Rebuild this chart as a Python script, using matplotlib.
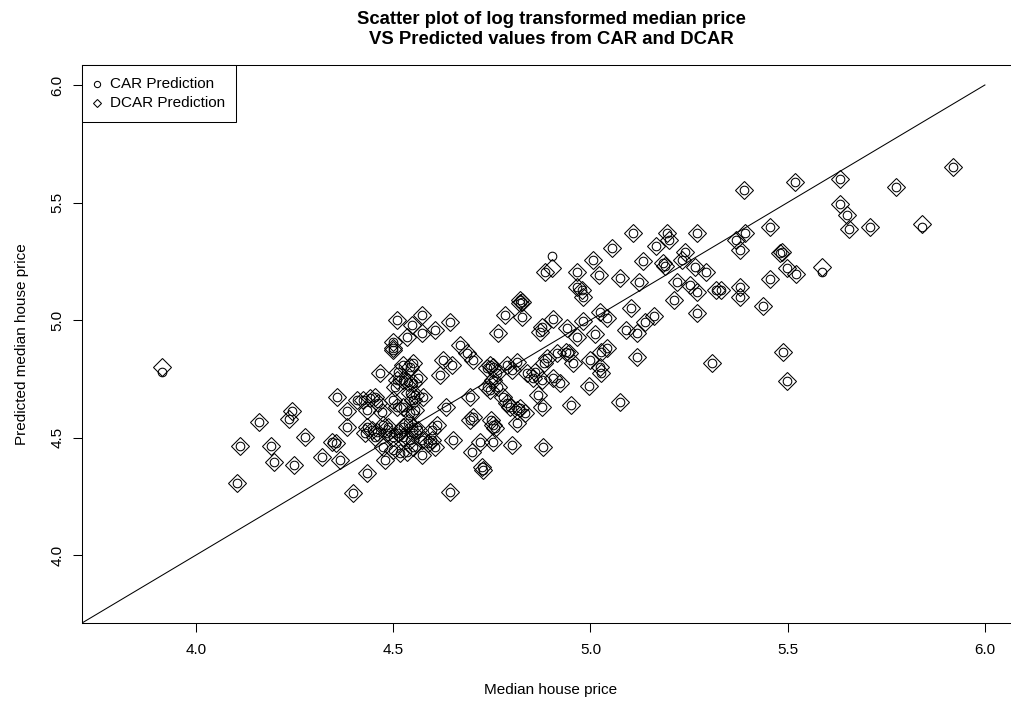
import matplotlib
matplotlib.use("Agg")
import matplotlib.pyplot as plt
from matplotlib.lines import Line2D
from matplotlib.patches import Rectangle

plt.rcParams['font.family'] = ['Liberation Sans', 'DejaVu Sans']

# ---- data ----
median_price = [
    3.913, 4.103, 4.112, 4.160, 4.190, 4.198, 4.248, 4.243, 4.237, 4.277,
    4.319, 4.346, 4.356, 4.365, 4.357, 4.384, 4.382, 4.407, 4.398,
    4.509, 4.572, 4.547, 4.573, 4.606, 4.644, 4.500, 4.500, 4.499, 4.534,
    4.783, 4.821, 4.826, 4.876, 4.872, 4.904, 4.766, 4.669, 4.686, 4.703,
    4.627, 4.648, 4.619, 4.551, 4.542, 4.526, 4.513, 4.509, 4.504, 4.466,
    4.526, 4.538, 4.551, 4.564, 4.542, 4.555, 4.551, 4.576, 4.500, 4.509,
    4.526, 4.542, 4.555, 4.635, 4.695, 4.695, 4.703, 4.749, 4.754, 4.758,
    4.610, 4.652, 4.699, 4.720, 4.754, 4.724, 4.728, 4.800, 4.813, 4.879,
    4.644, 4.754, 4.737, 4.745, 4.762, 4.754, 4.766, 4.788, 4.800, 4.813,
    4.838, 4.855, 4.859, 4.881, 4.889, 4.914, 4.876, 4.906, 4.737, 4.745,
    4.779, 4.788, 4.796, 4.813, 4.821, 4.834, 4.868, 4.876, 4.433, 4.445,
    4.454, 4.458, 4.428, 4.424, 4.441, 4.454, 4.462, 4.433, 4.471, 4.475,
    4.488, 4.483, 4.475, 4.479, 4.500, 4.513, 4.526, 4.542, 4.551, 4.526,
    4.538, 4.551, 4.551, 4.564, 4.572, 4.589, 4.598, 4.606, 4.534, 4.572,
    4.517, 4.500, 4.433, 4.598,
    4.885, 4.902, 4.965, 4.965, 4.821, 4.826,
    5.107, 5.195, 5.271, 5.393, 5.456, 5.370, 5.379, 5.480, 5.456, 5.054,
    5.165, 5.198, 5.240, 5.134, 5.184, 5.190, 5.231, 5.265, 5.294, 5.006,
    5.022, 5.075, 5.124, 5.219, 5.252, 5.271, 5.318, 5.330, 5.379, 5.379,
    5.437, 4.978, 4.980, 5.212, 5.271, 5.104, 5.161, 5.138, 5.024, 5.041,
    4.980, 4.940, 5.091, 5.117, 5.011, 4.965, 4.938, 4.945, 5.027, 5.041,
    4.999, 5.024, 5.028, 4.956, 5.119, 5.307, 4.997, 4.951, 5.075, 4.923,
    5.518, 5.632, 5.774, 5.918, 5.632, 5.651, 5.655, 5.708, 5.841, 5.587,
    5.485, 5.499, 5.520, 5.489, 5.499, 5.390,
]

car_pred = [
    4.780, 4.305, 4.465, 4.565, 4.465, 4.397, 4.384, 4.613, 4.577, 4.503,
    4.418, 4.482, 4.478, 4.404, 4.674, 4.614, 4.546, 4.660, 4.264,
    5.000, 5.021, 4.979, 4.945, 4.957, 4.993, 4.908, 4.880, 4.872, 4.929,
    5.021, 5.071, 5.014, 4.971, 4.950, 5.003, 4.943, 4.894, 4.858, 4.830,
    4.830, 4.809, 4.766, 4.816, 4.801, 4.809, 4.780, 4.745, 4.716, 4.773,
    4.745, 4.738, 4.730, 4.752, 4.688, 4.681, 4.660, 4.674, 4.660, 4.631,
    4.631, 4.603, 4.617, 4.631, 4.674, 4.574, 4.589, 4.574, 4.553, 4.539,
    4.553, 4.489, 4.440, 4.482, 4.482, 4.376, 4.362, 4.468, 4.560, 4.461,
    4.269, 4.801, 4.794, 4.809, 4.773, 4.745, 4.716, 4.809, 4.787, 4.823,
    4.773, 4.752, 4.780, 4.816, 4.837, 4.858, 4.745, 4.752, 4.716, 4.702,
    4.674, 4.646, 4.631, 4.617, 4.624, 4.603, 4.681, 4.631, 4.546, 4.532,
    4.503, 4.525, 4.518, 4.660, 4.667, 4.674, 4.646, 4.617, 4.610, 4.553,
    4.546, 4.518, 4.461, 4.404, 4.503, 4.518, 4.503, 4.489, 4.461, 4.546,
    4.560, 4.546, 4.518, 4.532, 4.489, 4.475, 4.489, 4.461, 4.440, 4.426,
    4.433, 4.447, 4.348, 4.532,
    5.206, 5.272, 5.206, 5.142, 5.085, 5.078,
    5.369, 5.369, 5.369, 5.369, 5.394, 5.340, 5.298, 5.284, 5.173, 5.305,
    5.315, 5.340, 5.291, 5.249, 5.241, 5.230, 5.255, 5.227, 5.206, 5.255,
    5.191, 5.177, 5.163, 5.163, 5.149, 5.120, 5.127, 5.127, 5.142, 5.099,
    5.060, 5.127, 5.100, 5.085, 5.031, 5.050, 5.017, 4.993, 5.035, 5.007,
    4.996, 4.965, 4.957, 4.943, 4.940, 4.929, 4.864, 4.860, 4.864, 4.879,
    4.830, 4.801, 4.773, 4.816, 4.844, 4.816, 4.719, 4.638, 4.652, 4.730,
    5.589, 5.599, 5.565, 5.652, 5.492, 5.447, 5.386, 5.397, 5.395, 5.206,
    5.290, 5.220, 5.196, 4.865, 4.742, 5.555,
]

dcar_pred = [
    4.801, 4.305, 4.465, 4.565, 4.465, 4.397, 4.384, 4.613, 4.577, 4.503,
    4.418, 4.482, 4.478, 4.404, 4.674, 4.614, 4.546, 4.660, 4.264,
    5.000, 5.021, 4.979, 4.945, 4.957, 4.993, 4.908, 4.880, 4.872, 4.929,
    5.021, 5.071, 5.014, 4.971, 4.950, 5.003, 4.943, 4.894, 4.858, 4.830,
    4.830, 4.809, 4.766, 4.816, 4.801, 4.809, 4.780, 4.745, 4.716, 4.773,
    4.745, 4.738, 4.730, 4.752, 4.688, 4.681, 4.660, 4.674, 4.660, 4.631,
    4.631, 4.603, 4.617, 4.631, 4.674, 4.574, 4.589, 4.574, 4.553, 4.539,
    4.553, 4.489, 4.440, 4.482, 4.482, 4.376, 4.362, 4.468, 4.560, 4.461,
    4.269, 4.801, 4.794, 4.809, 4.773, 4.745, 4.716, 4.809, 4.787, 4.823,
    4.773, 4.752, 4.780, 4.816, 4.837, 4.858, 4.745, 4.752, 4.716, 4.702,
    4.674, 4.646, 4.631, 4.617, 4.624, 4.603, 4.681, 4.631, 4.546, 4.532,
    4.503, 4.525, 4.518, 4.660, 4.667, 4.674, 4.646, 4.617, 4.610, 4.553,
    4.546, 4.518, 4.461, 4.404, 4.503, 4.518, 4.503, 4.489, 4.461, 4.546,
    4.560, 4.546, 4.518, 4.532, 4.489, 4.475, 4.489, 4.461, 4.440, 4.426,
    4.433, 4.447, 4.348, 4.532,
    5.206, 5.220, 5.206, 5.142, 5.085, 5.078,
    5.369, 5.369, 5.369, 5.369, 5.394, 5.340, 5.298, 5.284, 5.173, 5.305,
    5.315, 5.340, 5.291, 5.249, 5.241, 5.230, 5.255, 5.227, 5.206, 5.255,
    5.191, 5.177, 5.163, 5.163, 5.149, 5.120, 5.127, 5.127, 5.142, 5.099,
    5.060, 5.127, 5.100, 5.085, 5.031, 5.050, 5.017, 4.993, 5.035, 5.007,
    4.996, 4.965, 4.957, 4.943, 4.940, 4.929, 4.864, 4.860, 4.864, 4.879,
    4.830, 4.801, 4.773, 4.816, 4.844, 4.816, 4.719, 4.638, 4.652, 4.730,
    5.589, 5.599, 5.565, 5.652, 5.492, 5.447, 5.386, 5.397, 5.409, 5.227,
    5.290, 5.220, 5.196, 4.865, 4.742, 5.555,
]

ref_line = [3.0, 6.0]
ticks = [4.0, 4.5, 5.0, 5.5, 6.0]
tick_labels = ["4.0", "4.5", "5.0", "5.5", "6.0"]
legend_labels = ["CAR Prediction", "DCAR Prediction"]
title_lines = ["Scatter plot of log transformed median price",
               "VS Predicted values from CAR and DCAR"]
xlabel = "Median house price"
ylabel = "Predicted median house price"

# ---- figure ----
W, H = 1011, 701
fig = plt.figure(figsize=(W / 100, H / 100), dpi=100)

def fx(px):
    return px / W

def fy(py):
    return 1 - py / H

L, R, T, B = 82, 1020, 65, 623
ax = fig.add_axes([fx(L), fy(B), (R - L) / W, (B - T) / H])
ax.set_xlim(3.711, 6.089)
ax.set_ylim(3.711, 6.085)

lw = 0.75
ax.plot(median_price, car_pred, linestyle='none', marker='o', ms=6.2,
        mfc='none', mec='black', mew=lw)
ax.plot(median_price, dcar_pred, linestyle='none', marker='D', ms=9.3,
        mfc='none', mec='black', mew=lw)
ax.plot(ref_line, ref_line, color='black', lw=lw)

for s in ['left', 'bottom', 'top']:
    ax.spines[s].set_linewidth(lw)
ax.spines['right'].set_visible(False)

ax.set_xticks(ticks)
ax.set_xticklabels(tick_labels)
ax.set_yticks(ticks)
ax.set_yticklabels(tick_labels, rotation=90, va='center')
ax.tick_params(axis='both', direction='out', length=6.5, width=lw,
               labelsize=11, colors='black')
ax.tick_params(axis='x', pad=8)
ax.tick_params(axis='y', pad=6)

fig.text(fx((L + R) / 2), fy(19.5), title_lines[0],
         ha='center', va='center', fontsize=13.3, fontweight='bold')
fig.text(fx((L + R) / 2), fy(39.5), title_lines[1],
         ha='center', va='center', fontsize=13.3, fontweight='bold')
fig.text(fx((L + R) / 2), fy(690), xlabel, ha='center', va='center', fontsize=11)
fig.text(fx(22), fy((T + B) / 2), ylabel, ha='center', va='center',
         rotation=90, fontsize=11)

# ---- legend (R style box) ----
box = Rectangle((fx(82), fy(122)), (236 - 82) / W, (122 - 65) / H,
                transform=fig.transFigure, facecolor='white', edgecolor='black',
                linewidth=lw, zorder=5)
fig.add_artist(box)
fig.add_artist(Line2D([fx(96.5)], [fy(84.3)], marker='o', ms=4.5, mfc='none',
                      mec='black', mew=lw, linestyle='none',
                      transform=fig.transFigure, zorder=6))
fig.add_artist(Line2D([fx(96.5)], [fy(103.3)], marker='D', ms=4.3, mfc='none',
                      mec='black', mew=lw, linestyle='none',
                      transform=fig.transFigure, zorder=6))
fig.text(fx(110), fy(84.3), legend_labels[0], ha='left', va='center',
         fontsize=11, zorder=6)
fig.text(fx(110), fy(103.3), legend_labels[1], ha='left', va='center',
         fontsize=11, zorder=6)

fig.savefig("out.png", dpi=100)
